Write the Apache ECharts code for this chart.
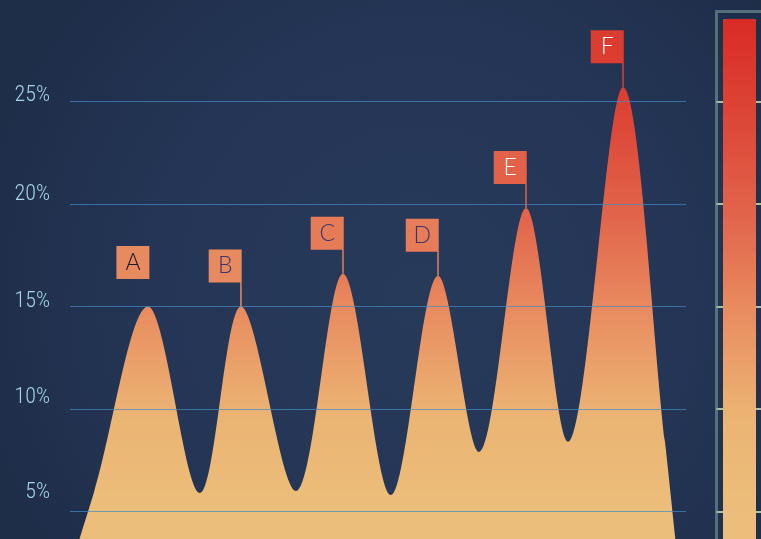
<!DOCTYPE html>
<html>
<head>
<meta charset="utf-8">
<script src="https://cdn.jsdelivr.net/npm/echarts@6/dist/echarts.min.js"></script>
<style>html,body{margin:0;padding:0;background:#222f4b;}#c{width:761px;height:539px;}</style>
</head>
<body>
<div id="c"></div>
<script>
// ---- data ----
const xPos   = [-0.319, 0.43, 1.0, 1.547, 1.979, 2.558, 3.053, 3.558, 4.053, 4.484, 4.979, 5.421, 6.0, 6.442, 6.737];
const values = [-5, 5.9, 15.0, 5.9, 15.0, 6.0, 16.6, 5.8, 16.5, 7.9, 19.8, 8.4, 25.7, 8.4, -5];
const peakNames = ['A', 'B', 'C', 'D', 'E', 'F'];
const peakIndex = [2, 4, 6, 8, 10, 12];
const peakTextColors = ['#1c1c22', '#3a3670', '#3a3670', '#3a3670', '#ffffff', '#ffffff'];
const tickValues = [5, 10, 15, 20, 25];
const tickLabels = ['5%', '10%', '15%', '20%', '25%'];

const vmMin = 0, vmMax = 29;
const vmColors = ['#ECBF7B', '#ECBE7B', '#EBB473', '#E98E61', '#E1654B', '#DC4636', '#D92B26'];

function hex(c){return [parseInt(c.slice(1,3),16),parseInt(c.slice(3,5),16),parseInt(c.slice(5,7),16)];}
function colorAt(v){
  let f = (v - vmMin) / (vmMax - vmMin) * (vmColors.length - 1);
  f = Math.max(0, Math.min(vmColors.length - 1, f));
  const i = Math.min(vmColors.length - 2, Math.floor(f)), t = f - i;
  const a = hex(vmColors[i]), b = hex(vmColors[i + 1]);
  return 'rgb(' + a.map((x, k) => Math.round(x + (b[k] - x) * t)).join(',') + ')';
}

const seriesData = xPos.map((x, i) => [x, values[i]]);
const FLAG = 'path://M0,0L33,0L33,57L31.5,57L31.5,33L0,33Z';
const BOX = 'path://M0,0L33,0L33,33L0,33Z';
const markData = peakIndex.map((idx, k) => {
  const noPole = k === 0;
  return {
    name: peakNames[k],
    coord: [xPos[idx], values[idx]],
    symbol: noPole ? BOX : FLAG,
    symbolSize: noPole ? [33, 33] : [33, 57],
    symbolOffset: noPole ? [-15, -44] : [-15.75, -28.5],
    itemStyle: { color: colorAt(values[idx]) },
    label: { color: peakTextColors[k], offset: noPole ? [0, 0] : [0, -12] }
  };
});

// label lift (px) above each gridline, as in the reference
const labelLift = { 5: 19, 10: 12, 15: 5, 20: 10, 25: 6 };
const rich = {};
tickValues.forEach(v => { rich['t' + v] = { padding: [0, 0, labelLift[v] * 2, 0] }; });

const chart = echarts.init(document.getElementById('c'), null, { renderer: 'canvas' });
chart.setOption({
  animation: false,
  backgroundColor: {
    type: 'radial', x: 0.55, y: 0.55, r: 0.85,
    colorStops: [{ offset: 0, color: '#283a5a' }, { offset: 0.6, color: '#243555' }, { offset: 1, color: '#1e2d48' }]
  },
  graphic: [{
    type: 'rect', z: 1,
    shape: { x: 716.5, y: 11.5, width: 200, height: 700 },
    style: { fill: 'none', stroke: 'rgba(120,155,155,0.6)', lineWidth: 3 }
  }],
  grid: [
    { left: 70, right: 75, top: -206, bottom: -75, outerBoundsMode: 'none', containLabel: false },
    { left: 716, right: -20, top: -206, bottom: -75, outerBoundsMode: 'none', containLabel: false }
  ],
  xAxis: [
    { type: 'value', min: 0.18, max: 6.663, show: false },
    { type: 'value', gridIndex: 1, min: 0, max: 1, show: false }
  ],
  yAxis: [{
    type: 'value', min: 0, max: 40, interval: 5, z: 5,
    axisLine: { show: false }, axisTick: { show: false },
    splitLine: { lineStyle: { color: 'rgba(64,140,200,0.7)', width: 1 } },
    axisLabel: {
      margin: 20, fontSize: 22, fontWeight: 300, verticalAlign: 'middle',
      fontFamily: "'Roboto Condensed', 'Liberation Sans Narrow', Roboto, sans-serif",
      formatter: v => { const i = tickValues.indexOf(v); return i >= 0 ? '{t' + v + '|' + tickLabels[i] + '}' : ''; },
      rich: rich,
      color: v => v === 5 ? '#7d93ad' : (v === 10 || v === 15 ? '#c6dbe7' : '#a6d3e6')
    }
  }, {
    type: 'value', gridIndex: 1, min: 0, max: 40, interval: 5,
    axisLine: { show: false }, axisTick: { show: false }, axisLabel: { show: false },
    splitLine: { lineStyle: { color: '#a7c2a8', width: 2 } }
  }],
  visualMap: {
    type: 'continuous', min: vmMin, max: vmMax, dimension: 1, seriesIndex: 0,
    calculable: false, itemWidth: 33, itemHeight: (vmMax - vmMin) * 20.5,
    right: 0, top: 14, padding: 5, hoverLink: false,
    inRange: { color: vmColors }
  },
  series: [{
    type: 'line', data: seriesData, smooth: 0.33,
    showSymbol: false, lineStyle: { width: 0 },
    areaStyle: { opacity: 1 },
    markPoint: {
      data: markData,
      label: {
        show: true, position: 'inside', fontSize: 23, fontWeight: 300,
        fontFamily: "Lato, 'Open Sans', 'Noto Sans', sans-serif",
        formatter: p => p.name
      }
    }
  }]
});
</script>
</body>
</html>
